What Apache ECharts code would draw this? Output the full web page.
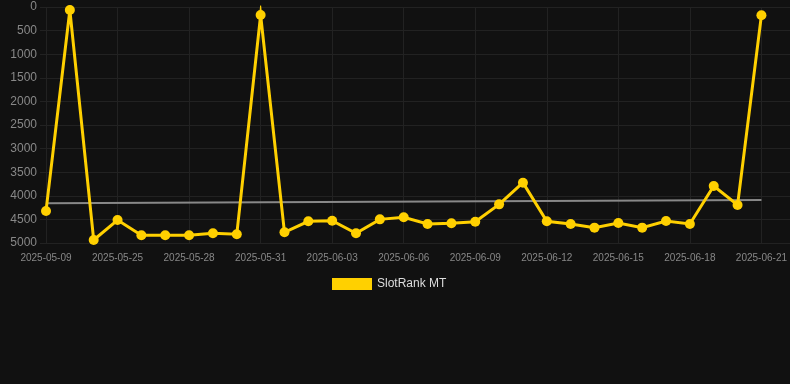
<!DOCTYPE html>
<html>
<head>
<meta charset="utf-8">
<script src="https://cdn.jsdelivr.net/npm/echarts@6/dist/echarts.min.js"></script>
<style>
html,body{margin:0;padding:0;background:#111111;}
#c{width:790px;height:384px;}
</style>
</head>
<body>
<div id="c"></div>
<script>
const categories = ['2025-05-09','2025-05-13','2025-05-21','2025-05-25','2025-05-26','2025-05-27','2025-05-28','2025-05-29','2025-05-30','2025-05-31','2025-06-01','2025-06-02','2025-06-03','2025-06-04','2025-06-05','2025-06-06','2025-06-07','2025-06-08','2025-06-09','2025-06-10','2025-06-11','2025-06-12','2025-06-13','2025-06-14','2025-06-15','2025-06-16','2025-06-17','2025-06-18','2025-06-19','2025-06-20','2025-06-21'];
const rankValues = [4322, 64, 4936, 4513, 4837, 4837, 4837, 4795, 4816, 169, 4774, 4541, 4527, 4795, 4499, 4456, 4597, 4583, 4548, 4181, 3722, 4541, 4597, 4675, 4576, 4675, 4534, 4597, 3792, 4195, 176];
const trendStart = 4159;
const trendEnd = 4089;
const yTicks = [0, 500, 1000, 1500, 2000, 2500, 3000, 3500, 4000, 4500, 5000];

const trendData = categories.map((c, i) => i === 0 ? trendStart : (i === categories.length - 1 ? trendEnd : null));
const gridColor = '#222222';

const chart = echarts.init(document.getElementById('c'));
chart.setOption({
  backgroundColor: '#111111',
  animation: false,
  textStyle: { fontFamily: 'Arial, "Liberation Sans", sans-serif' },
  grid: [
    { left: 46, right: 28, top: 7, bottom: 141, containLabel: false },
    { left: 40, right: 0, top: 7, bottom: 141, containLabel: false }
  ],
  legend: {
    top: 273,
    left: 327,
    itemWidth: 40,
    itemHeight: 12,
    itemGap: 10,
    icon: 'rect',
    data: ['SlotRank MT'],
    textStyle: { color: '#dddddd', fontSize: 12 }
  },
  xAxis: [
    {
      type: 'category',
      gridIndex: 0,
      data: categories,
      boundaryGap: false,
      axisLine: { show: false },
      axisTick: { show: true, interval: 2, length: 7, lineStyle: { color: gridColor } },
      axisLabel: { interval: 2, color: '#888888', fontSize: 10, margin: 10 },
      splitLine: { show: true, interval: 2, lineStyle: { color: gridColor, width: 1 } }
    },
    {
      type: 'value',
      gridIndex: 1,
      show: false
    }
  ],
  yAxis: [
    {
      type: 'value',
      gridIndex: 0,
      inverse: true,
      min: yTicks[0],
      max: yTicks[yTicks.length - 1],
      interval: 500,
      axisLine: { show: false },
      axisTick: { show: false },
      axisLabel: { color: '#888888', fontSize: 12, margin: 9, formatter: v => String(v) },
      splitLine: { show: false }
    },
    {
      type: 'value',
      gridIndex: 1,
      inverse: true,
      min: yTicks[0],
      max: yTicks[yTicks.length - 1],
      interval: 500,
      axisLine: { show: false },
      axisTick: { show: false },
      axisLabel: { show: false },
      splitLine: { show: true, lineStyle: { color: gridColor, width: 1 } }
    }
  ],
  series: [
    {
      name: 'Trend',
      type: 'line',
      xAxisIndex: 0,
      yAxisIndex: 0,
      data: trendData,
      connectNulls: true,
      showSymbol: false,
      symbol: 'none',
      lineStyle: { color: '#888888', width: 2 },
      itemStyle: { color: '#888888' },
      silent: true,
      z: 1
    },
    {
      name: 'SlotRank MT',
      type: 'line',
      xAxisIndex: 0,
      yAxisIndex: 0,
      data: rankValues,
      symbol: 'circle',
      symbolSize: 10,
      showAllSymbol: true,
      lineStyle: { color: '#ffd000', width: 3, join: 'miter', miterLimit: 10 },
      itemStyle: { color: '#ffd000' },
      z: 2
    }
  ]
});
</script>
</body>
</html>
